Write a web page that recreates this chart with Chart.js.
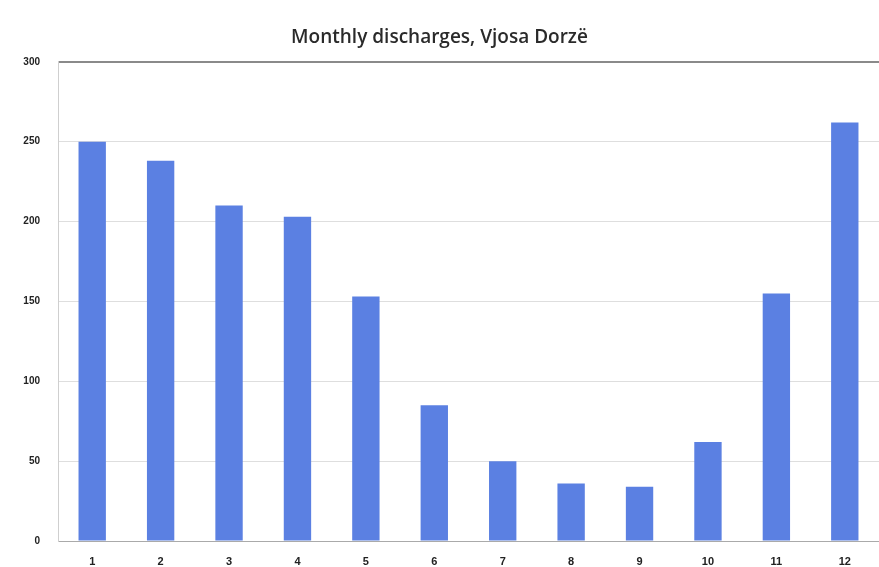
<!DOCTYPE html>
<html>
<head>
<meta charset="utf-8">
<script src="https://cdn.jsdelivr.net/npm/chart.js@4.4.1/dist/chart.umd.min.js"></script>
<style>
  html, body { margin: 0; padding: 0; background: #fff; }
  #wrap { width: 879px; height: 567px; }
</style>
</head>
<body>
<div id="wrap"><canvas id="dischargeChart" width="879" height="567"></canvas></div>
<script>
// months and mean discharge values
const months = ['1', '2', '3', '4', '5', '6', '7', '8', '9', '10', '11', '12'];
const discharge = [250, 238, 210, 203, 153, 85, 50, 36, 34, 62, 155, 262];
const yTicks = [0, 50, 100, 150, 200, 250, 300];

const ctx = document.getElementById('dischargeChart').getContext('2d');

const config = {
    type: 'bar',
    data: {
        labels: months,
        datasets: [{
            label: 'Discharge',
            data: discharge,
            backgroundColor: '#5b80e2',
            borderWidth: 0,
            categoryPercentage: 1.0,
            barPercentage: 0.4
        }]
    },
    options: {
        responsive: false,
        animation: false,
        layout: { padding: { left: 0, right: 0, top: 0, bottom: 0 } },
        plugins: {
            legend: { display: false },
            tooltip: { enabled: false },
            title: {
                display: true,
                text: 'Monthly discharges, Vjosa Dorzë',
                color: '#2a2a2a',
                font: { family: 'Open Sans', size: 19, weight: '600' },
                padding: { top: 26, bottom: 13 }
            }
        },
        scales: {
            x: {
                grid: { display: false },
                border: { display: true, color: '#aaa', width: 1 },
                ticks: {
                    color: '#222',
                    padding: 6,
                    font: { family: 'Liberation Sans', size: 11, weight: 'bold' }
                },
                afterFit: scale => { scale.height = 26; }
            },
            y: {
                min: 0,
                max: 300,
                afterBuildTicks: scale => { scale.ticks = yTicks.map(v => ({ value: v })); },
                grid: {
                    drawTicks: false,
                    color: c => (c.tick && c.tick.value === 300) ? '#8a8a8a' : '#dedede',
                    lineWidth: c => (c.tick && c.tick.value === 300) ? 2 : 1
                },
                border: { display: true, color: '#cfcfcf' },
                ticks: {
                    color: '#222',
                    padding: 18,
                    font: { family: 'Liberation Sans', size: 10, weight: 'bold' }
                },
                afterFit: scale => { scale.width = 58; }
            }
        }
    }
};

const dischargeChart = new Chart(ctx, config);
</script>
</body>
</html>
